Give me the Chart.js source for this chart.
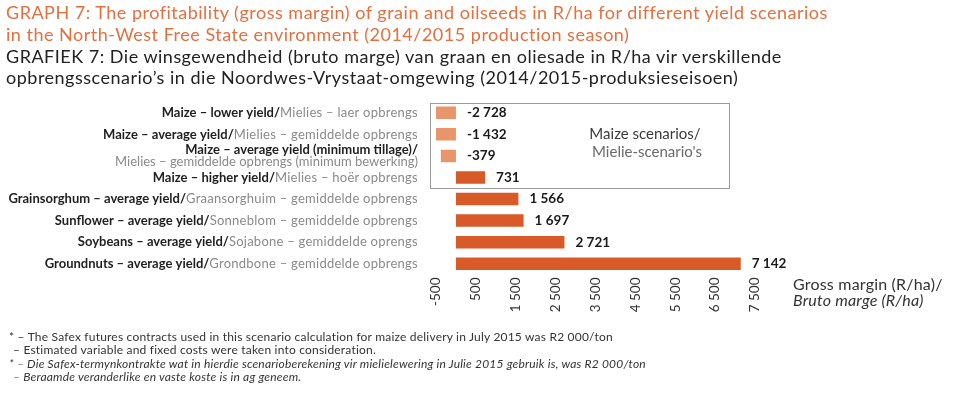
<!DOCTYPE html>
<html>
<head>
<meta charset="utf-8">
<script src="https://cdn.jsdelivr.net/npm/chart.js@4.4.1/dist/chart.umd.min.js"></script>
<style>
    body { margin: 0; background: #fff; font-family: Lato, sans-serif; }
    #wrap { position: relative; width: 960px; height: 393px; overflow: hidden; }
    #chartBox { position: absolute; left: 0; top: 0; width: 960px; height: 393px; }
    .title { position: absolute; left: 6px; top: 2px; font-size: 18px; letter-spacing: 0.5px; line-height: 21.8px; white-space: nowrap; }
    .title .en { color: #e46f3f; }
    .title .af { color: #222; }
    .axis-title { position: absolute; left: 793px; top: 276px; font-size: 16px; letter-spacing: 0.2px; line-height: 16px; color: #333; white-space: nowrap; }
    .notes { position: absolute; left: 9px; top: 330px; font-size: 12px; letter-spacing: 0.2px; line-height: 13.4px; color: #333; white-space: nowrap; }
    .notes .ind { padding-left: 4px; }
    .notes i { font-style: italic; }
</style>
</head>
<body>
<div id="wrap">
    <div id="chartBox"><canvas id="marginChart"></canvas></div>
    <div class="title">
        <div class="en">GRAPH 7: The profitability (gross margin) of grain and oilseeds in R/ha for different yield scenarios</div>
        <div class="en">in the North-West Free State environment (2014/2015 production season)</div>
        <div class="af">GRAFIEK 7: Die winsgewendheid (bruto marge) van graan en oliesade in R/ha vir verskillende</div>
        <div class="af">opbrengsscenario’s in die Noordwes-Vrystaat-omgewing (2014/2015-produksieseisoen)</div>
    </div>
    <div class="axis-title">Gross margin (R/ha)/<br><i>Bruto marge (R/ha)</i></div>
    <div class="notes">
        <div>* – The Safex futures contracts used in this scenario calculation for maize delivery in July 2015 was R2 000/ton</div>
        <div class="ind">– Estimated variable and fixed costs were taken into consideration.</div>
        <div><i>* – Die Safex-termynkontrakte wat in hierdie scenarioberekening vir mielielewering in Julie 2015 gebruik is, was R2 000/ton</i></div>
        <div class="ind"><i>– Beraamde veranderlike en vaste koste is in ag geneem.</i></div>
    </div>
</div>
<script>
const labelsEn = [
    'Maize – lower yield/',
    'Maize – average yield/',
    'Maize – average yield (minimum tillage)/',
    'Maize – higher yield/',
    'Grainsorghum – average yield/',
    'Sunflower – average yield/',
    'Soybeans – average yield/',
    'Groundnuts – average yield/',
];
const labelsAf = [
    'Mielies – laer opbrengs',
    'Mielies – gemiddelde opbrengs',
    'Mielies – gemiddelde opbrengs (minimum bewerking)',
    'Mielies – hoër opbrengs',
    'Graansorghuim – gemiddelde opbrengs',
    'Sonneblom – gemiddelde opbrengs',
    'Sojabone – gemiddelde oprengs',
    'Grondbone – gemiddelde opbrengs',
];
const grossMargin = [-2728, -1432, -379, 731, 1566, 1697, 2721, 7142];
const xTicks = [-500, 500, 1500, 2500, 3500, 4500, 5500, 6500, 7500];
const xTickLabels = ['-500', '500', '1 500', '2 500', '3 500', '4 500', '5 500', '6 500', '7 500'];
const maizeRows = 4;

const fmt = v => (v < 0 ? '-' : '') + String(Math.abs(v)).replace(/\B(?=(\d{3})+(?!\d))/g, ' ');

const decorPlugin = {
    id: 'decor',
    afterDraw(chart) {
        const ctx = chart.ctx;
        const y = chart.scales.y;
        const area = chart.chartArea;
        const step = y.getPixelForValue(1) - y.getPixelForValue(0);
        ctx.save();
        ctx.textBaseline = 'middle';

        // category labels, English bold + Afrikaans light
        const right = area.left - 18;
        const boldFont = 'bold 13px Lato';
        const lightFont = '13px Lato';
        labelsEn.forEach((en, i) => {
            const yy = y.getPixelForValue(i);
            const af = labelsAf[i];
            ctx.font = boldFont;
            ctx.letterSpacing = '0px';
            const wEn = ctx.measureText(en).width;
            ctx.font = lightFont;
            if (wEn + ctx.measureText(af).width > 480) {
                ctx.textAlign = 'right';
                ctx.font = boldFont;
                ctx.fillStyle = '#1f1f1f';
                ctx.fillText(en, right, yy - 6);
                ctx.font = lightFont;
                ctx.fillStyle = '#8a8a8a';
                ctx.fillText(af, right, yy + 5.5);
            } else {
                ctx.letterSpacing = '0.25px';
                const wAf = ctx.measureText(af).width;
                ctx.textAlign = 'left';
                ctx.fillStyle = '#8a8a8a';
                ctx.fillText(af, right - wAf, yy);
                ctx.letterSpacing = '0px';
                ctx.font = boldFont;
                ctx.fillStyle = '#1f1f1f';
                ctx.fillText(en, right - wAf - wEn, yy);
            }
        });
        ctx.letterSpacing = '0px';

        // value labels
        ctx.font = 'bold 13.5px Lato';
        ctx.fillStyle = '#1a1a1a';
        ctx.textAlign = 'left';
        chart.getDatasetMeta(0).data.forEach((bar, i) => {
            ctx.fillText(fmt(grossMargin[i]), Math.max(bar.x, bar.base) + 11, bar.y);
        });

        // maize scenarios box
        const top = y.getPixelForValue(0) - step / 2 + 1;
        const bottom = y.getPixelForValue(maizeRows - 1) + step / 2;
        ctx.strokeStyle = '#9a9a9a';
        ctx.lineWidth = 1;
        ctx.strokeRect(area.left - 5.5, Math.round(top) + 0.5, 299, Math.round(bottom - top));
        ctx.textAlign = 'center';
        ctx.font = '15px Lato';
        ctx.fillStyle = '#3a3a3a';
        ctx.fillText('Maize scenarios/', 645, top + 31);
        ctx.fillStyle = '#6a6a6a';
        ctx.fillText("Mielie-scenario's", 647, top + 49);
        ctx.restore();
    },
};

new Chart(document.getElementById('marginChart'), {
    type: 'bar',
    data: {
        labels: labelsEn.map((en, i) => en + labelsAf[i]),
        datasets: [{
            data: grossMargin,
            backgroundColor: grossMargin.map(v => (v < 0 ? '#e8956b' : '#d85a28')),
            borderWidth: 0,
            categoryPercentage: 1,
            barPercentage: 0.58,
        }],
    },
    options: {
        indexAxis: 'y',
        responsive: true,
        maintainAspectRatio: false,
        animation: false,
        layout: { padding: { left: 436, right: 205, top: 102, bottom: 0 } },
        plugins: { legend: { display: false }, tooltip: { enabled: false } },
        scales: {
            x: {
                min: -500,
                max: 7500,
                afterBuildTicks: s => { s.ticks = xTicks.map(v => ({ value: v })); },
                afterFit: s => { s.height = 118.5; },
                grid: { display: false, drawTicks: false },
                border: { display: false },
                ticks: {
                    autoSkip: false,
                    minRotation: 90,
                    maxRotation: 90,
                    padding: 3,
                    color: '#333',
                    font: { family: 'Lato', size: 13.5 },
                    callback: (v, i) => xTickLabels[i],
                },
            },
            y: { display: false },
        },
    },
    plugins: [decorPlugin],
});
</script>
</body>
</html>
